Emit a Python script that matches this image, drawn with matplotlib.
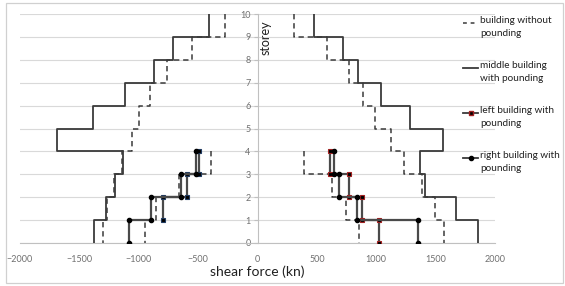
import matplotlib
matplotlib.use('Agg')
import matplotlib.pyplot as plt
from matplotlib.lines import Line2D
from matplotlib.patches import Rectangle

plt.rcParams['font.family'] = ['Lato', 'DejaVu Sans']

# storey shear (kN), listed from the top storey interval downwards
main_pound_left = [-412, -712, -874, -1118, -1384, -1686, -1132, -1202, -1280, -1376]
main_pound_right = [479, 717, 849, 1039, 1283, 1563, 1367, 1409, 1675, 1857]
main_free_left = [-277, -549, -759, -908, -997, -1056, -1143, -1210, -1266, -1300]
main_free_right = [311, 583, 773, 885, 989, 1123, 1235, 1384, 1496, 1571]
small_free_left = [-389, -664, -851, -944]
small_free_right = [395, 625, 745, 852]
left_bldg_left = [-496, -591, -796]          # storeys 4..2
left_bldg_right = [613, 773, 880, 1025]      # storeys 4..1
right_bldg_left = [-521, -647, -893, -1081]
right_bldg_right = [647, 683, 838, 1353]
top_main = 10
top_small = 4


def steps(vals, top):
    xs, ys = [], []
    for i, v in enumerate(vals):
        xs += [v, v]
        ys += [top - i, top - i - 1]
    return xs, ys


W, H = 565, 286
fig = plt.figure(figsize=(W / 100, H / 100), dpi=100)
fig.patch.set_facecolor('white')
fig.patches.append(Rectangle((6 / W, 3 / H), 557 / W, 280 / H, transform=fig.transFigure,
                             fill=False, edgecolor='#d0d0d0', lw=0.9))

ax = fig.add_axes([20 / W, 1 - 243 / H, 475 / W, 229 / H])
ax.set_xlim(-2000, 2000)
ax.set_ylim(0, 10)

LC = '#3a3a3a'
dash = dict(color=LC, lw=1.1, ls=(0, (3.5, 2.5)))
for vals, top in [(main_free_left, top_main), (main_free_right, top_main),
                  (small_free_left, top_small), (small_free_right, top_small)]:
    ax.plot(*steps(vals, top), **dash, zorder=3)

for vals in [main_pound_left, main_pound_right]:
    ax.plot(*steps(vals, top_main), color=LC, lw=1.3, zorder=3)

sq = dict(color='#4a4a4a', lw=1.6, marker='s', ms=3.0, mfc='black', mew=0.8, zorder=4)
ax.plot(*steps(left_bldg_left, top_small), mec='#1f3a60', **sq)
ax.plot(*steps(left_bldg_right, top_small), mec='#a02020', **sq)
ci = dict(color='#4a4a4a', lw=1.6, marker='o', ms=3.0, mfc='black', mec='black', zorder=4)
ax.plot(*steps(right_bldg_left, top_small), **ci)
ax.plot(*steps(right_bldg_right, top_small), **ci)

# axes styling, Excel look
ax.set_yticks(range(0, 11))
ax.set_xticks(range(-2000, 2001, 500))
ax.yaxis.grid(True, color='#d9d9d9', lw=0.8)
ax.set_axisbelow(True)
for s in ['top', 'right']:
    ax.spines[s].set_visible(False)
ax.spines['left'].set_position(('data', 0))
ax.spines['left'].set_color('#c0c0c0')
ax.spines['bottom'].set_color('#c0c0c0')
ax.tick_params(axis='y', labelsize=6.5, labelcolor='#707070', length=3, color='#c0c0c0', pad=2)
ax.tick_params(axis='x', labelsize=6.5, labelcolor='#707070', length=0, pad=9)

ax.set_xlabel('shear force (kn)', fontsize=10, labelpad=1, color='#202020')
ax.text(70, 8.95, 'storey', rotation=90, ha='center', va='center', fontsize=9, color='#202020')

# legend drawn by hand to match the Excel layout
entries = [
    ('building without\npounding', dict(color=LC, lw=1.1, ls=(0, (2.5, 2.5)))),
    ('middle building\nwith pounding', dict(color=LC, lw=1.3)),
    ('left building with\npounding', dict(color=LC, lw=1.3, marker='s', ms=3.0, mfc='black',
                                          mec='#a02020', markevery=[1])),
    ('right building with\npounding', dict(color=LC, lw=1.3, marker='o', ms=3.0, mfc='black',
                                           mec='black', markevery=[1])),
]
for k, (lab, st) in enumerate(entries):
    y = 23 + 45 * k
    fig.add_artist(Line2D([463 / W, 470.5 / W, 478 / W], [1 - y / H] * 3,
                          transform=fig.transFigure, **st))
    fig.text(480 / W, 1 - (y - 7) / H, lab, ha='left', va='top', fontsize=7.2, color='#202020',
             linespacing=1.6)

plt.savefig('out.png', dpi=100, facecolor=fig.get_facecolor())
